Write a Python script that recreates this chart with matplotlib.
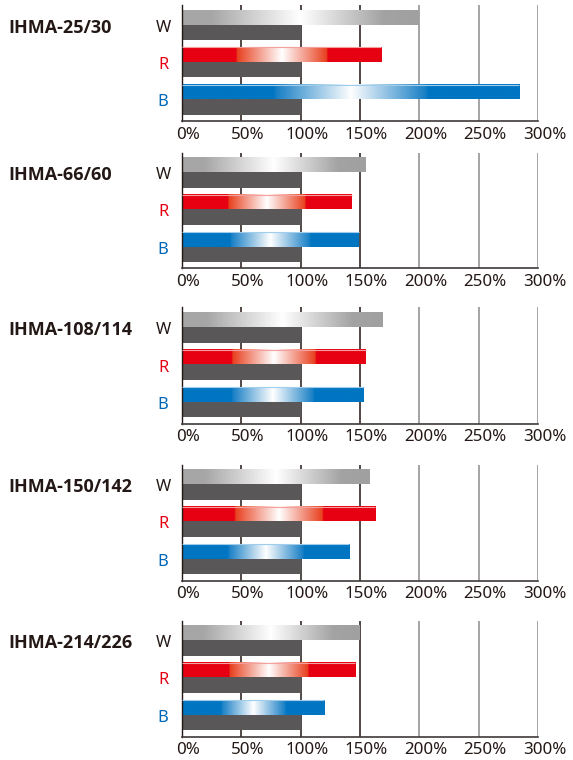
import numpy as np
import matplotlib
matplotlib.use("Agg")
import matplotlib.pyplot as plt
from matplotlib.colors import LinearSegmentedColormap
from matplotlib.transforms import ScaledTranslation

plt.rcParams['font.family'] = ['Noto Sans', 'DejaVu Sans']

# ---- data ----
models = ["IHMA-25/30", "IHMA-66/60", "IHMA-108/114", "IHMA-150/142", "IHMA-214/226"]
channels = ["W", "R", "B"]
w_vals = [199, 155, 169, 158, 150]
r_vals = [168, 143, 155, 163, 146]
b_vals = [284, 149, 153, 141, 120]
ref_vals = [100, 100, 100, 100, 100]
xticks = [0, 50, 100, 150, 200, 250, 300]
xtick_labels = ["0%", "50%", "100%", "150%", "200%", "250%", "300%"]

# ---- styles ----
DARK = "#231815"
GRAY_BAR = "#595757"
label_colors = {"W": DARK, "R": "#e60012", "B": "#0068b7"}
cmaps = {
    "W": LinearSegmentedColormap.from_list("w", [(0, "#a6a6a6"), (0.12, "#a6a6a6"), (0.5, "#ffffff"),
                                                 (0.85, "#a3a3a3"), (1, "#a0a0a0")]),
    "R": LinearSegmentedColormap.from_list("r", [(0, "#e60012"), (0.27, "#e60012"), (0.275, "#e8401f"),
                                                 (0.5, "#ffffff"), (0.725, "#e8401f"), (0.73, "#e60012"),
                                                 (1, "#e60012")]),
    "B": LinearSegmentedColormap.from_list("b", [(0, "#0075c2"), (0.27, "#0075c2"), (0.28, "#1a80c6"),
                                                 (0.5, "#ffffff"), (0.72, "#1a80c6"), (0.73, "#0075c2"),
                                                 (1, "#0075c2")]),
}
edge_colors = {"W": None, "R": "#f4a0a0", "B": "#9fcdeb"}

W, H = 573, 760
fig = plt.figure(figsize=(W / 100, H / 100), dpi=100)
fig.patch.set_facecolor("white")

bottoms_px = [121, 268.5, 423.5, 580.5, 736.5]
ax_h = 116
x0_px, x1_px = 182, 538
bar_h = 15.2
group_step = 37.3
first_top = 4.5

grad = np.linspace(0, 1, 256).reshape(1, -1)

for pi, model in enumerate(models):
    bpx = bottoms_px[pi]
    ax = fig.add_axes([x0_px / W, 1 - bpx / H, (x1_px - x0_px) / W, ax_h / H])
    ax.set_xlim(0, 300)
    ax.set_ylim(ax_h, 0)
    vals = {"W": w_vals[pi], "R": r_vals[pi], "B": b_vals[pi]}

    # grid lines (behind bars)
    for t in xticks[1:]:
        ax.axvline(t, color=DARK if t <= 150 else "#8c8c8c", lw=1.1, zorder=0.5)

    for gi, ch in enumerate(channels):
        top = first_top + gi * group_step
        yc = top + bar_h / 2
        v = vals[ch]
        bar = ax.barh(yc, v, height=bar_h, color="none", edgecolor="none", zorder=2)[0]
        im = ax.imshow(grad, cmap=cmaps[ch], extent=(0, v, top + bar_h, top),
                       aspect="auto", zorder=2, interpolation="bilinear")
        im.set_clip_path(bar)
        if edge_colors[ch]:
            ax.plot([0, v], [top + 0.4, top + 0.4], color=edge_colors[ch], lw=0.8, zorder=3,
                    solid_capstyle="butt")
        # reference 100% bar
        ax.barh(top + bar_h + bar_h / 2, ref_vals[pi], height=bar_h + 0.3, color=GRAY_BAR, zorder=2)
        # channel label
        ax.text((163 - x0_px) / (x1_px - x0_px), top + bar_h + 3, ch,
                transform=ax.get_yaxis_transform(), ha="center", va="center",
                fontsize=11.8, color=label_colors[ch])

    ax.set_xlim(0, 300)
    ax.set_ylim(ax_h, 0)

    ax.text((8 - x0_px) / (x1_px - x0_px), first_top + bar_h + 3, model,
            transform=ax.get_yaxis_transform(), ha="left", va="center",
            fontsize=13, fontweight="bold", color=DARK, family=["Open Sans", "DejaVu Sans"])

    ax.set_xticks(xticks)
    ax.set_xticklabels(xtick_labels)
    ax.set_yticks([])
    ax.tick_params(axis="x", length=0, pad=4, labelsize=12.2, labelcolor=DARK)
    off = ScaledTranslation(6.5 / 100, 0, fig.dpi_scale_trans)
    for lab in ax.get_xticklabels():
        lab.set_transform(lab.get_transform() + off)
    for s in ["top", "right"]:
        ax.spines[s].set_visible(False)
    ax.spines["left"].set_color(DARK)
    ax.spines["left"].set_linewidth(1.0)
    ax.spines["bottom"].set_color("#3e3a39")
    ax.spines["bottom"].set_linewidth(1.2)
    ax.set_facecolor("none")

fig.savefig("out.png", dpi=100, facecolor="white")
